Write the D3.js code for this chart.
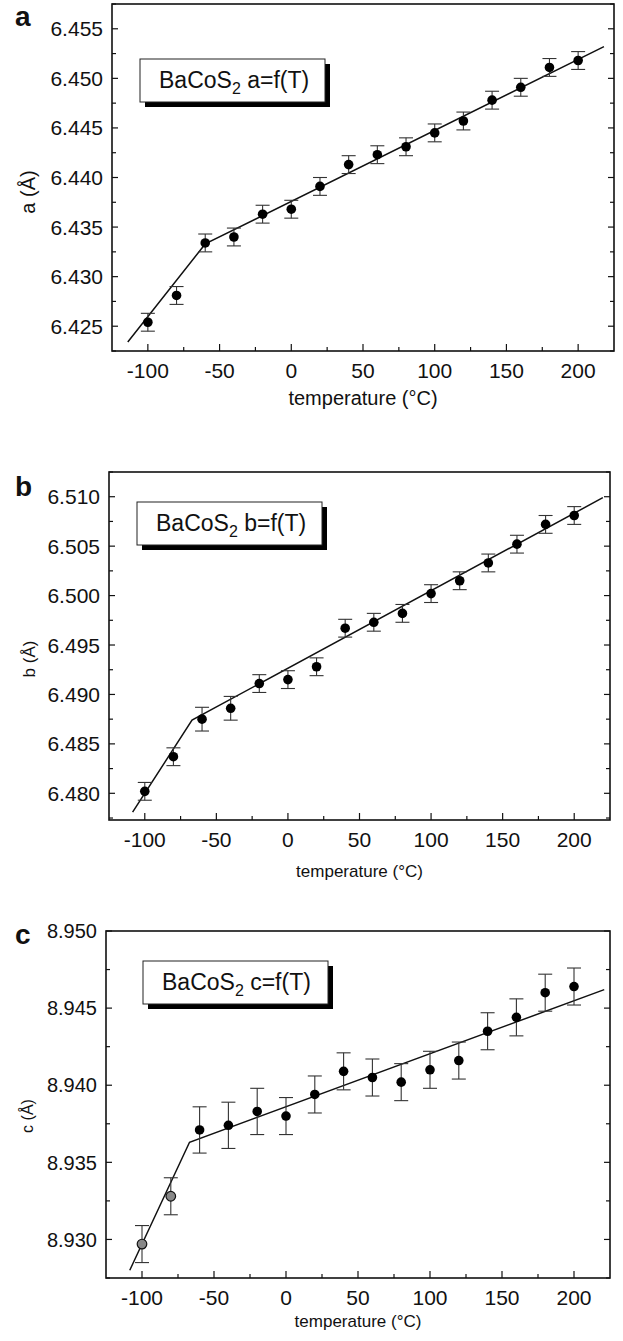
<!DOCTYPE html>
<html>
<head>
<meta charset="utf-8">
<script src="https://cdnjs.cloudflare.com/ajax/libs/d3/7.8.5/d3.min.js"></script>
<style>
  body { margin: 0; background: #fff; }
  text { font-family: "Liberation Sans", Arial, Helvetica, sans-serif; fill: #111; }
</style>
</head>
<body>
<svg id="chart" width="623" height="1341"></svg>
<script>
// temperatures (°C) of the measurements
var temps = [-100, -80, -60, -40, -20, 0, 20, 40, 60, 80, 100, 120, 140, 160, 180, 200];

// lattice parameter a
var aValues = [6.4254, 6.4281, 6.4334, 6.4340, 6.4363, 6.4368, 6.4391, 6.4413, 6.4423, 6.4431, 6.4445, 6.4457, 6.4478, 6.4491, 6.4511, 6.4518];
var aErrors = [0.0009, 0.0009, 0.0009, 0.0009, 0.0009, 0.0009, 0.0009, 0.0009, 0.0009, 0.0009, 0.0009, 0.0009, 0.0009, 0.0009, 0.0009, 0.0009];
var aFitT = [-114, -60, 218];
var aFitV = [6.4234, 6.4333, 6.4532];
var aTicks = [6.425, 6.430, 6.435, 6.440, 6.445, 6.450, 6.455];

// lattice parameter b
var bValues = [6.4802, 6.4837, 6.4875, 6.4886, 6.4911, 6.4915, 6.4928, 6.4967, 6.4973, 6.4982, 6.5002, 6.5015, 6.5033, 6.5052, 6.5072, 6.5081];
var bErrors = [0.0009, 0.0009, 0.0012, 0.0012, 0.0009, 0.0009, 0.0009, 0.0009, 0.0009, 0.0009, 0.0009, 0.0009, 0.0009, 0.0009, 0.0009, 0.0009];
var bFitT = [-108.5, -67, 220];
var bFitV = [6.4781, 6.4874, 6.5099];
var bTicks = [6.480, 6.485, 6.490, 6.495, 6.500, 6.505, 6.510];

// lattice parameter c
var cValues = [8.9297, 8.9328, 8.9371, 8.9374, 8.9383, 8.9380, 8.9394, 8.9409, 8.9405, 8.9402, 8.9410, 8.9416, 8.9435, 8.9444, 8.9460, 8.9464];
var cErrors = [0.0012, 0.0012, 0.0015, 0.0015, 0.0015, 0.0012, 0.0012, 0.0012, 0.0012, 0.0012, 0.0012, 0.0012, 0.0012, 0.0012, 0.0012, 0.0012];
var cOpen = [-100, -80];
var cFitT = [-108.5, -67, 221];
var cFitV = [8.9280, 8.9363, 8.9462];
var cTicks = [8.930, 8.935, 8.940, 8.945, 8.950];

var xTicks = [-100, -50, 0, 50, 100, 150, 200];
var xDomain = [-125, 225];

var svg = d3.select("#chart");

function zip(ts, vs, es) {
  return ts.map(function(t, i) { return { t: t, v: vs[i], e: es ? es[i] : 0 }; });
}

function isMajor(d) {
  return Math.abs(Math.round(d / 0.005) * 0.005 - d) < 1e-7;
}

function drawPanel(p) {
  var x = d3.scaleLinear().domain(xDomain).range([p.left, p.right]);
  var y = d3.scaleLinear().domain(p.yDomain).range([p.bottom, p.top]);
  var g = svg.append("g");

  // minor + major ticks, pointing inward
  var xMinor = d3.range(-100, 225, 25);
  var yMinor = d3.range(Math.ceil(p.yDomain[0] / 0.0025 - 1e-6), Math.floor(p.yDomain[1] / 0.0025 + 1e-6) + 1)
    .map(function(k) { return k * 0.0025; });

  g.selectAll(".xt").data(xMinor).enter().append("line")
    .attr("x1", function(d) { return x(d); }).attr("x2", function(d) { return x(d); })
    .attr("y1", p.bottom).attr("y2", function(d) { return p.bottom - (d % 50 === 0 ? 7 : 4); })
    .attr("stroke", "#111").attr("stroke-width", 1.2);

  g.selectAll(".yt").data(yMinor).enter().append("line")
    .attr("x1", p.left).attr("x2", function(d) { return p.left + (isMajor(d) ? 6 : 4); })
    .attr("y1", function(d) { return y(d); }).attr("y2", function(d) { return y(d); })
    .attr("stroke", "#111").attr("stroke-width", 1.2);

  g.selectAll(".yt2").data(yMinor).enter().append("line")
    .attr("x1", p.right).attr("x2", function(d) { return p.right - (isMajor(d) ? 6 : 4); })
    .attr("y1", function(d) { return y(d); }).attr("y2", function(d) { return y(d); })
    .attr("stroke", "#111").attr("stroke-width", 1.2);

  // frame
  g.append("rect")
    .attr("x", p.left).attr("y", p.top)
    .attr("width", p.right - p.left).attr("height", p.bottom - p.top)
    .attr("fill", "none").attr("stroke", "#111").attr("stroke-width", 1.6);

  // tick labels
  g.selectAll(".xl").data(xTicks).enter().append("text")
    .attr("x", function(d) { return x(d); })
    .attr("y", p.bottom + 27)
    .attr("text-anchor", "middle")
    .style("font-size", "21px")
    .text(function(d) { return d; });

  g.selectAll(".yl").data(p.yTicks).enter().append("text")
    .attr("x", p.left - 9)
    .attr("y", function(d) { return y(d); })
    .attr("dy", "0.36em")
    .attr("text-anchor", "end")
    .style("font-size", p.tickSize + "px")
    .text(function(d) { return d3.format(".3f")(d); });

  // axis titles
  g.append("text")
    .attr("x", (p.left + p.right) / 2)
    .attr("y", p.xTitleY)
    .attr("text-anchor", "middle")
    .style("font-size", p.xTitleSize + "px")
    .text("temperature (°C)");

  g.append("text")
    .attr("transform", "translate(" + p.yTitleX + "," + p.yTitleY + ") rotate(-90)")
    .attr("text-anchor", "middle")
    .style("font-size", p.yTitleSize + "px")
    .text(p.name + " (Å)");

  // panel letter
  g.append("text")
    .attr("x", 15).attr("y", p.letterY)
    .style("font-size", "28px").style("font-weight", "bold")
    .text(p.name);

  // legend box with shadow
  var lg = g.append("g").attr("transform", "translate(" + p.legend[0] + "," + p.legend[1] + ")");
  lg.append("rect").attr("x", 5).attr("y", 5).attr("width", 185).attr("height", 43).attr("fill", "#000");
  lg.append("rect").attr("x", 0).attr("y", 0).attr("width", 185).attr("height", 43)
    .attr("fill", "#fff").attr("stroke", "#222").attr("stroke-width", 1);
  var lt = lg.append("text").attr("x", 19).attr("y", 29).style("font-size", "23px");
  lt.append("tspan").text("BaCoS");
  lt.append("tspan").attr("dy", 6).style("font-size", "16px").text("2");
  lt.append("tspan").attr("dy", -6).text(" " + p.name + "=f(T)");

  // fit line
  var line = d3.line().x(function(d) { return x(d.t); }).y(function(d) { return y(d.v); });
  g.append("path")
    .attr("d", line(zip(p.fitT, p.fitV)))
    .attr("fill", "none").attr("stroke", "#111").attr("stroke-width", 1.5);

  // error bars
  var pts = zip(temps, p.values, p.errors);
  var eb = g.selectAll(".eb").data(pts).enter().append("g").attr("stroke", "#333").attr("stroke-width", 1.1);
  eb.append("line")
    .attr("x1", function(d) { return x(d.t); }).attr("x2", function(d) { return x(d.t); })
    .attr("y1", function(d) { return y(d.v - d.e); }).attr("y2", function(d) { return y(d.v + d.e); });
  eb.append("line")
    .attr("x1", function(d) { return x(d.t) - 7; }).attr("x2", function(d) { return x(d.t) + 7; })
    .attr("y1", function(d) { return y(d.v + d.e); }).attr("y2", function(d) { return y(d.v + d.e); });
  eb.append("line")
    .attr("x1", function(d) { return x(d.t) - 7; }).attr("x2", function(d) { return x(d.t) + 7; })
    .attr("y1", function(d) { return y(d.v - d.e); }).attr("y2", function(d) { return y(d.v - d.e); });

  // points
  var open = p.open || [];
  g.selectAll(".pt").data(pts).enter().append("circle")
    .attr("cx", function(d) { return x(d.t); })
    .attr("cy", function(d) { return y(d.v); })
    .attr("r", 4.8)
    .attr("fill", function(d) { return open.indexOf(d.t) >= 0 ? "#888" : "#000"; })
    .attr("stroke", "#111").attr("stroke-width", function(d) { return open.indexOf(d.t) >= 0 ? 1.2 : 0; });
}

drawPanel({
  name: "a", values: aValues, errors: aErrors, fitT: aFitT, fitV: aFitV, yTicks: aTicks,
  yDomain: [6.4225, 6.4575], left: 112, right: 614, top: 4, bottom: 351,
  tickSize: 21, xTitleY: 405, xTitleSize: 20, yTitleX: 35, yTitleY: 192, yTitleSize: 20,
  letterY: 26, legend: [140, 59]
});

drawPanel({
  name: "b", values: bValues, errors: bErrors, fitT: bFitT, fitV: bFitV, yTicks: bTicks,
  yDomain: [6.4773, 6.5125], left: 109, right: 610, top: 472, bottom: 820,
  tickSize: 21, xTitleY: 877, xTitleSize: 17, yTitleX: 35, yTitleY: 659, yTitleSize: 17,
  letterY: 496, legend: [137, 502]
});

drawPanel({
  name: "c", values: cValues, errors: cErrors, fitT: cFitT, fitV: cFitV, yTicks: cTicks, open: cOpen,
  yDomain: [8.9275, 8.950], left: 106, right: 610, top: 931, bottom: 1278,
  tickSize: 20, xTitleY: 1327, xTitleSize: 17, yTitleX: 33, yTitleY: 1116, yTitleSize: 16,
  letterY: 944, legend: [143, 961]
});
</script>
</body>
</html>
